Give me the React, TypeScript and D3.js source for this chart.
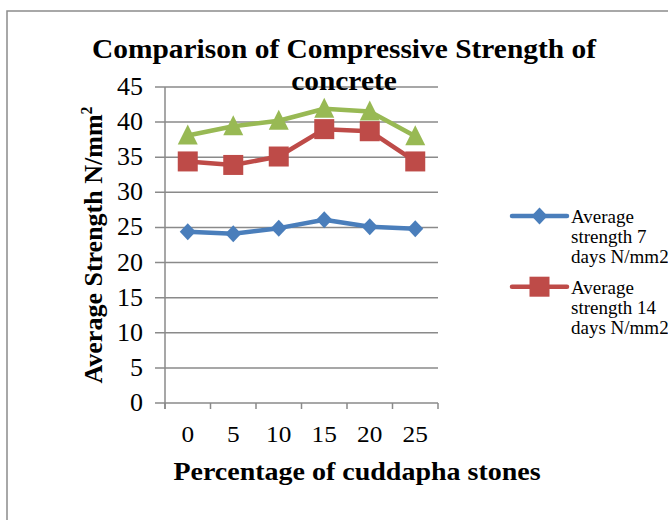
import React from 'react';
import * as d3 from 'd3';

const categories = ['0', '5', '10', '15', '20', '25'];
const strength7 = [24.4, 24.1, 24.9, 26.1, 25.1, 24.8];
const strength14 = [34.4, 33.9, 35.1, 39.0, 38.7, 34.4];
const strength28 = [38.1, 39.4, 40.2, 41.9, 41.5, 38.0];
const yTicks = [0, 5, 10, 15, 20, 25, 30, 35, 40, 45];

const series = [
    { name: ['Average', 'strength 7', 'days N/mm2'], values: strength7, color: '#4a7ebb', shape: 'diamond' },
    { name: ['Average', 'strength 14', 'days N/mm2'], values: strength14, color: '#be4b48', shape: 'square' },
    { name: ['Average', 'strength 28', 'days N/mm2'], values: strength28, color: '#98b954', shape: 'triangle' },
];
// the picture only shows the first two legend entries
const legendShown = 2;

const font = '"Liberation Serif", "Times New Roman", serif';

// text slightly stretched sideways, like the scaled picture
function T(props: { x: number, y: number, size: number, sx?: number, anchor?: string, bold?: boolean, children: any }) {
    const { x, y, size, sx = 1, anchor = 'start', bold = false } = props;
    return (
        <text transform={`translate(${x},${y}) scale(${sx},1)`} textAnchor={anchor} fontFamily={font}
            fontWeight={bold ? 'bold' : 'normal'} fontSize={size}>{props.children}</text>
    );
}

function marker(shape: string, x: number, y: number, color: string, key: string) {
    if (shape === 'diamond') {
        return <path key={key} d={`M${x},${y - 8.5}L${x + 8},${y}L${x},${y + 8.5}L${x - 8},${y}Z`} fill={color} />;
    }
    if (shape === 'square') {
        const s = 10;
        return <rect key={key} x={x - s} y={y - s} width={s * 2} height={s * 2} fill={color} />;
    }
    return <path key={key} d={`M${x},${y - 11}L${x + 10},${y + 9}L${x - 10},${y + 9}Z`} fill={color} />;
}

export default function App() {
    const left = 165, right = 438, top = 87, bottom = 403;
    const x = d3.scaleBand().domain(categories).range([left, right]);
    const y = d3.scaleLinear().domain([0, 45]).range([bottom, top]);
    const cx = (c: string) => x(c)! + x.bandwidth() / 2;
    const line = d3.line<number>().x((d, i) => cx(categories[i])).y(d => y(d));
    const bounds = [...categories.map(c => x(c)!), right];

    return (
        <svg width={668} height={520} style={{ position: 'absolute', left: 0, top: 0, background: '#fff' }}>
            <rect x={7} y={11} width={700} height={560} fill="none" stroke="#8c8c8c" strokeWidth={1.5} />
            <T x={344} y={58} size={27} sx={1.09} anchor="middle" bold>Comparison of Compressive Strength of</T>
            {yTicks.map(t => (
                <g key={t}>
                    <line x1={155} x2={right} y1={y(t)} y2={y(t)} stroke="#8a8a8a" strokeWidth={1.5} />
                    <T x={143} y={y(t) + 8} size={25} sx={1.04} anchor="end">{t}</T>
                </g>
            ))}
            <T x={344} y={90} size={27} sx={1.09} anchor="middle" bold>concrete</T>
            <line x1={left} x2={left} y1={top} y2={bottom + 6} stroke="#8a8a8a" strokeWidth={1.5} />
            {bounds.map((b, i) => (
                <line key={i} x1={b} x2={b} y1={bottom} y2={bottom + 6} stroke="#8a8a8a" strokeWidth={1.5} />
            ))}
            {categories.map(c => (
                <T key={c} x={cx(c)} y={442} size={23} sx={1.1} anchor="middle">{c}</T>
            ))}
            <text transform={`translate(102,245) rotate(-90)`} textAnchor="middle" fontFamily={font} fontWeight="bold" fontSize={26}>
                Average Strength N/mm<tspan dy={-10} fontSize={16}>2</tspan>
            </text>
            <T x={357} y={480} size={25} sx={1.12} anchor="middle" bold>Percentage of cuddapha stones</T>
            {series.map(s => (
                <g key={s.color}>
                    <path d={line(s.values)!} fill="none" stroke={s.color} strokeWidth={4.5} strokeLinejoin="round" />
                    {s.values.map((v, i) => marker(s.shape, cx(categories[i]), y(v), s.color, s.color + i))}
                </g>
            ))}
            {series.slice(0, legendShown).map((s, i) => {
                const ly = 216 + i * 70.7;
                return (
                    <g key={'lg' + i}>
                        <line x1={512} x2={567} y1={ly} y2={ly} stroke={s.color} strokeWidth={4.5} strokeLinecap="round" />
                        {marker(s.shape, 539.5, ly, s.color, 'lm' + i)}
                        {s.name.map((t, j) => (
                            <T key={j} x={571} y={ly + 7 + j * 20} size={19}>{t}</T>
                        ))}
                    </g>
                );
            })}
        </svg>
    );
}
